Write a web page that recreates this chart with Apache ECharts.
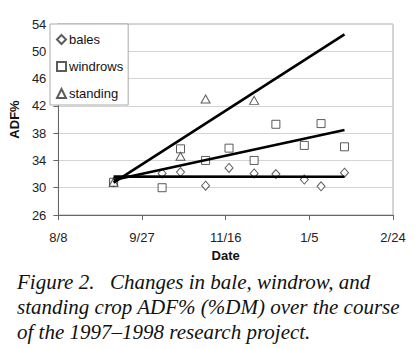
<!DOCTYPE html>
<html>
<head>
<meta charset="utf-8">
<script src="https://cdn.jsdelivr.net/npm/echarts@6/dist/echarts.min.js"></script>
<style>
html,body{margin:0;padding:0;background:#fff;}
#chart{width:417px;height:349px;}
</style>
</head>
<body>
<div id="chart"></div>
<script>
// Sampling dates (1997–1998)
const sampleDates = ['1997-09-10','1997-10-09','1997-10-20','1997-11-04','1997-11-18','1997-12-03','1997-12-16','1998-01-02','1998-01-12','1998-01-26'];
const standingDates = ['1997-09-10','1997-10-20','1997-11-04','1997-12-03'];
// ADF% values
const balesADF    = [30.8, 32.1, 32.3, 30.3, 32.9, 32.1, 32.0, 31.2, 30.2, 32.2];
const windrowsADF = [30.8, 30.0, 35.7, 34.0, 35.8, 34.0, 39.3, 36.2, 39.4, 36.0];
const standingADF = [30.8, 34.6, 43.0, 42.8];
// Axis ticks
const xTickLabels = ['8/8','9/27','11/16','1/5','2/24'];
const yTicks = [26, 30, 34, 38, 42, 46, 50, 54];
const seriesNames = ['bales','windrows','standing'];
const captionLines = ['Figure 2.', 'Changes in bale, windrow, and', 'standing crop ADF% (%DM) over the course', 'of the 1997–1998 research project.'];

const base = Date.UTC(1997, 7, 8);
function dayOf(s){ const p = s.split('-').map(Number); return Math.round((Date.UTC(p[0], p[1]-1, p[2]) - base) / 86400000); }
function pts(dates, vals){ return dates.map((d,i)=>[dayOf(d), vals[i]]); }
const xStart = dayOf(sampleDates[0]), xEnd = dayOf(sampleDates[sampleDates.length-1]);
function trend(data){
  const n = data.length;
  const mx = data.reduce((a,p)=>a+p[0],0)/n, my = data.reduce((a,p)=>a+p[1],0)/n;
  let sxy=0, sxx=0; data.forEach(p=>{sxy+=(p[0]-mx)*(p[1]-my); sxx+=(p[0]-mx)*(p[0]-mx);});
  const b = sxy/sxx, a = my - b*mx;
  return [[xStart, a+b*xStart],[xEnd, a+b*xEnd]];
}
const balesData = pts(sampleDates, balesADF);
const windData = pts(sampleDates, windrowsADF);
const standData = pts(standingDates, standingADF);

const chart = echarts.init(document.getElementById('chart'), null, {renderer:'svg'});
const mk = {color:'#fff', borderColor:'#333', borderWidth:1};
const lineStyle = {color:'#000', width:2.6};
chart.setOption({
  animation:false,
  textStyle:{fontFamily:'Liberation Sans, Arial, sans-serif'},
  grid:{left:50, right:24, top:24, bottom:134, show:true, borderColor:'#aaa', borderWidth:1, backgroundColor:'transparent'},
  legend:{
    orient:'vertical', left:50, top:24, padding:[9,5,5,6], itemGap:14,
    itemWidth:9, itemHeight:9, backgroundColor:'#fff', borderColor:'#aaa', borderWidth:1, borderRadius:0,
    textStyle:{fontSize:13, color:'#111', padding:[0,0,0,-2]},
    data:seriesNames
  },
  xAxis:{
    type:'value', min:0, max:200, interval:50,
    name:'Date', nameLocation:'middle', nameGap:28,
    nameTextStyle:{fontWeight:'bold', fontSize:13, color:'#111'},
    axisLine:{lineStyle:{color:'#666'}},
    axisTick:{show:true, length:5, lineStyle:{color:'#666'}},
    axisLabel:{fontSize:13, color:'#222', margin:16, formatter:(v)=>xTickLabels[Math.round(v/50)]},
    splitLine:{show:false}
  },
  yAxis:{
    type:'value', min:yTicks[0], max:yTicks[yTicks.length-1], interval:4,
    name:'ADF%', nameLocation:'middle', nameGap:24,
    nameTextStyle:{fontWeight:'bold', fontSize:13, color:'#111'},
    axisLine:{show:true, lineStyle:{color:'#666'}},
    axisTick:{show:true, length:5, lineStyle:{color:'#666'}},
    axisLabel:{fontSize:13, color:'#222', margin:12},
    splitLine:{show:true, lineStyle:{color:'#d4d4d4', width:1}}
  },
  series:[
    {name:'bales', type:'scatter', symbol:'diamond', symbolSize:[8,9], itemStyle:mk, data:balesData, z:2},
    {name:'windrows', type:'scatter', symbol:'rect', symbolSize:8, itemStyle:mk, data:windData, z:2},
    {name:'standing', type:'scatter', symbol:'triangle', symbolSize:[9,8], itemStyle:mk, data:standData, z:2},
    {type:'line', data:trend(balesData), symbol:'none', lineStyle:lineStyle, z:3},
    {type:'line', data:trend(windData), symbol:'none', lineStyle:lineStyle, z:3},
    {type:'line', data:trend(standData), symbol:'none', lineStyle:lineStyle, z:3}
  ],
  graphic:[
    {type:'text', left:17, top:271, style:{text:captionLines[0], font:'italic 21px "Liberation Serif", serif', fill:'#111'}},
    {type:'text', left:110, top:271, style:{text:captionLines[1], font:'italic 21px "Liberation Serif", serif', fill:'#111'}},
    {type:'text', left:17, top:296, style:{text:captionLines[2], font:'italic 21px "Liberation Serif", serif', fill:'#111'}},
    {type:'text', left:17, top:321, style:{text:captionLines[3], font:'italic 21px "Liberation Serif", serif', fill:'#111'}}
  ]
});
</script>
</body>
</html>
